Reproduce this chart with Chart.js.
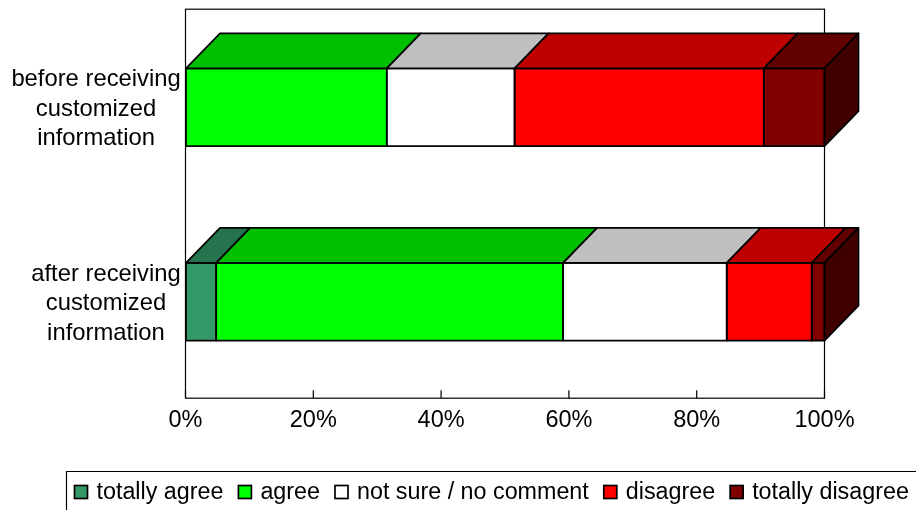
<!DOCTYPE html>
<html>
<head>
<meta charset="utf-8">
<title>Customized information survey</title>
<script src="https://cdn.jsdelivr.net/npm/chart.js@4/dist/chart.umd.min.js"></script>
<style>
  html, body { margin: 0; padding: 0; background: #fff; overflow: hidden; }
  canvas { display: block; }
</style>
</head>
<body>
<canvas id="chart" width="916" height="510"></canvas>
<script>
const categories = [
  ['before receiving', 'customized', 'information'],
  ['after receiving', 'customized', 'information'],
];
const seriesNames = ['totally agree', 'agree', 'not sure / no comment', 'disagree', 'totally disagree'];
const totallyAgree = [0, 4.8];
const agree = [31.5, 54.3];
const notSure = [20, 25.6];
const disagree = [39, 13.3];
const totallyDisagree = [9.5, 2];

const frontColors = ['#339966', '#00ff00', '#ffffff', '#ff0000', '#800000'];
const topColors = ['#267350', '#00bf00', '#bfbfbf', '#bf0000', '#600000'];
const sideColor = '#400000';

const FONT = '"Liberation Sans", Arial, sans-serif';
const DEPTH_X = 34;
const DEPTH_Y = 35;
const LINE = 1.7;

function polygon(ctx, pts, fill) {
  ctx.beginPath();
  pts.forEach((p, i) => (i ? ctx.lineTo(p[0], p[1]) : ctx.moveTo(p[0], p[1])));
  ctx.closePath();
  ctx.fillStyle = fill;
  ctx.fill();
  ctx.stroke();
}

// plot frame with ticks pointing inward
const frame = {
  id: 'frame',
  beforeDatasetsDraw(chart) {
    const { ctx, chartArea: a, scales } = chart;
    const bottom = a.bottom - 0.8;
    ctx.save();
    ctx.strokeStyle = '#000';
    ctx.lineWidth = 1.2;
    ctx.strokeRect(a.left, a.top - 0.8, a.right - a.left, bottom - a.top + 0.8);
    ctx.beginPath();
    scales.x.ticks.forEach((t, i) => {
      const x = scales.x.getPixelForTick(i);
      ctx.moveTo(x, bottom);
      ctx.lineTo(x, bottom - 8);
    });
    ctx.stroke();
    ctx.restore();
  },
};

// category labels: each block is centred on itself and ends just left of the axis
const categoryLabels = {
  id: 'categoryLabels',
  afterDraw(chart) {
    const { ctx, scales } = chart;
    ctx.save();
    ctx.font = '23.8px ' + FONT;
    ctx.fillStyle = '#000';
    ctx.textAlign = 'center';
    ctx.textBaseline = 'middle';
    chart.data.labels.forEach((lines, i) => {
      const widest = Math.max(...lines.map(l => ctx.measureText(l).width));
      const cx = scales.y.left + scales.y.width - 4.8 - widest / 2;
      const cy = scales.y.getPixelForTick(i);
      lines.forEach((l, n) => ctx.fillText(l, cx, cy + (n - 1) * 29.6 + 1.8));
    });
    ctx.restore();
  },
};

// outlines of the front faces, then the top and side faces that give the bars depth
const depth = {
  id: 'depth',
  afterDatasetsDraw(chart) {
    const { ctx } = chart;
    const last = chart.data.datasets.length - 1;
    ctx.save();
    ctx.strokeStyle = '#000';
    ctx.lineWidth = LINE;
    ctx.lineJoin = 'round';
    chart.data.datasets.forEach((ds, d) => {
      chart.getDatasetMeta(d).data.forEach((bar, i) => {
        if (!ds.data[i]) return;
        const top = bar.y - bar.height / 2;
        const bottom = bar.y + bar.height / 2;
        ctx.strokeRect(bar.base, top, bar.x - bar.base, bottom - top);
        polygon(ctx, [
          [bar.base, top],
          [bar.base + DEPTH_X, top - DEPTH_Y],
          [bar.x + DEPTH_X, top - DEPTH_Y],
          [bar.x, top],
        ], topColors[d]);
        if (d === last) {
          polygon(ctx, [
            [bar.x, top],
            [bar.x + DEPTH_X, top - DEPTH_Y],
            [bar.x + DEPTH_X, bottom - DEPTH_Y],
            [bar.x, bottom],
          ], sideColor);
        }
      });
    });
    ctx.restore();
  },
};

// legend strip, runs off the right and bottom of the canvas
const legendStrip = {
  id: 'legendStrip',
  afterDraw(chart) {
    const { ctx, width, height } = chart;
    ctx.save();
    ctx.strokeStyle = '#000';
    ctx.lineWidth = 1.2;
    ctx.beginPath();
    ctx.moveTo(width, 471.5);
    ctx.lineTo(66.5, 471.5);
    ctx.lineTo(66.5, height);
    ctx.stroke();

    ctx.font = '23.3px ' + FONT;
    ctx.textBaseline = 'alphabetic';
    ctx.textAlign = 'left';
    let x = 74.5;
    chart.data.datasets.forEach((ds, d) => {
      ctx.fillStyle = frontColors[d];
      ctx.lineWidth = LINE;
      ctx.fillRect(x, 485.5, 13, 13);
      ctx.strokeRect(x, 485.5, 13, 13);
      ctx.fillStyle = '#000';
      ctx.fillText(ds.label, x + 22, 498.5);
      x += 22 + ctx.measureText(ds.label).width + 15;
    });
    ctx.restore();
  },
};

const values = [totallyAgree, agree, notSure, disagree, totallyDisagree];

new Chart(document.getElementById('chart'), {
  type: 'bar',
  data: {
    labels: categories,
    datasets: values.map((data, d) => ({
      label: seriesNames[d],
      data,
      backgroundColor: frontColors[d],
      borderWidth: 0,
      barPercentage: 0.4,
      categoryPercentage: 1,
    })),
  },
  plugins: [frame, depth, categoryLabels, legendStrip],
  options: {
    indexAxis: 'y',
    responsive: false,
    animation: false,
    layout: { padding: { top: 10, right: 91.5, left: 0, bottom: 0 } },
    plugins: { legend: { display: false }, tooltip: { enabled: false } },
    scales: {
      x: {
        stacked: true,
        min: 0,
        max: 100,
        afterFit(scale) { scale.height = 111; },
        border: { display: false },
        grid: { drawOnChartArea: false, drawTicks: false },
        ticks: {
          stepSize: 20,
          padding: 7,
          maxRotation: 0,
          color: '#000',
          font: { family: FONT, size: 23.5 },
          callback: v => v + '%',
        },
      },
      y: {
        stacked: true,
        afterFit(scale) {
          scale.width = 185.5;
          scale.paddingTop = 0;
          scale.paddingBottom = 0;
        },
        border: { display: false },
        grid: { drawOnChartArea: false, drawTicks: false },
        ticks: { display: false },
      },
    },
  },
});
</script>
</body>
</html>
